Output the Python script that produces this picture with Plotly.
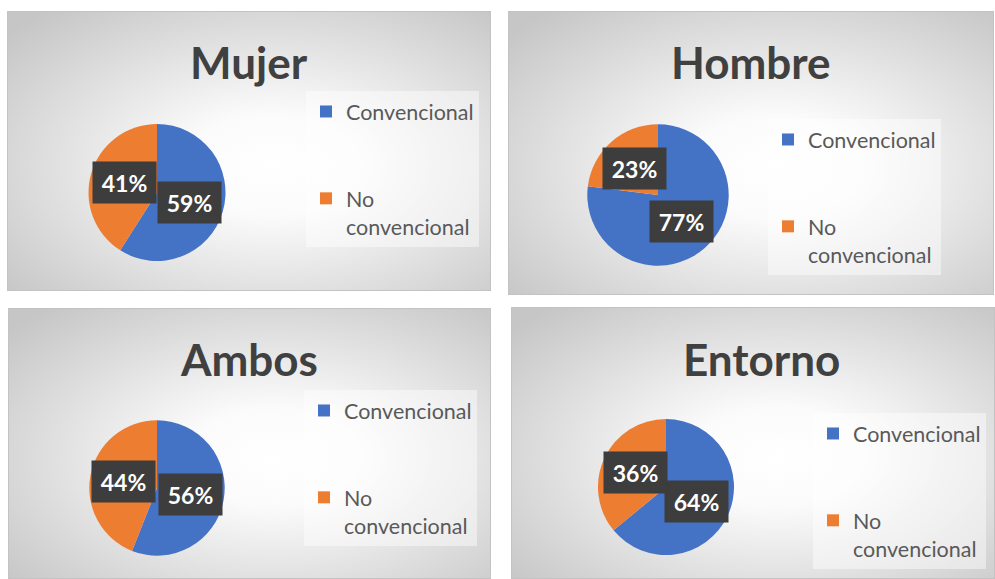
import base64
import math
import plotly.graph_objects as go

W, H = 995, 579

# ---- data ----
titles = ["Mujer", "Hombre", "Ambos", "Entorno"]
categories = ["Convencional", "No convencional"]
conv_pct = [59, 77, 56, 64]
noconv_pct = [41, 23, 44, 36]
colors = ["#4472C4", "#ED7D31"]

# legend text (same categories, with line breaks for Excel-like spacing)
legend_labels = ["Convencional<br> <br> ", "No<br>convencional"]

# ---- layout geometry (pixels) ----
panel_rects = [(7, 11, 491, 291), (508, 11, 994, 295), (8, 308, 491, 579), (511, 307, 995, 579)]
title_pos = [(249, 62), (751, 62), (249, 359), (761, 359)]
pie_geom = [(157, 192.5, 68.5), (658, 195, 70.7), (157, 488, 67.7), (666, 487, 68)]
legend_pos = [(306, 91), (768, 119), (304, 390), (813, 413)]

FONT = "Lato"

svg = (
    "<svg xmlns='http://www.w3.org/2000/svg' width='480' height='280' viewBox='0 0 480 280' preserveAspectRatio='none'>"
    "<defs><radialGradient id='g' cx='0.55' cy='0.55' r='0.72'>"
    "<stop offset='0' stop-color='#ffffff'/>"
    "<stop offset='0.25' stop-color='#fbfbfb'/>"
    "<stop offset='1' stop-color='#c6c6c6'/>"
    "</radialGradient></defs>"
    "<rect x='0' y='0' width='480' height='280' fill='url(#g)' stroke='#c3c3c3' stroke-width='2'/>"
    "</svg>"
)
bg_src = "data:image/svg+xml;base64," + base64.b64encode(svg.encode()).decode()

fig = go.Figure()
annotations = []
images = []
layout_legends = {}

for i, t in enumerate(titles):
    x0, y0, x1, y1 = panel_rects[i]
    images.append(dict(source=bg_src, xref="paper", yref="paper",
                       x=x0 / W, y=1 - y0 / H, sizex=(x1 - x0) / W, sizey=(y1 - y0) / H,
                       xanchor="left", yanchor="top", sizing="stretch", layer="below"))
    cx, cy, r = pie_geom[i]
    vals = [conv_pct[i], noconv_pct[i]]
    lname = "legend" if i == 0 else f"legend{i + 1}"
    fig.add_trace(go.Pie(
        labels=legend_labels, values=vals, sort=False, direction="clockwise", rotation=0,
        marker=dict(colors=colors, line=dict(width=0)),
        textinfo="none", hovertext=categories, hoverinfo="text+percent",
        domain=dict(x=[(cx - r) / W, (cx + r) / W], y=[1 - (cy + r) / H, 1 - (cy - r) / H]),
        legend=lname, legendgroup=f"g{i}", showlegend=True, name=t,
    ))
    # data labels at half radius on slice mid-angle
    total = sum(vals)
    cum = 0
    for v in vals:
        mid = (cum + v / 2) / total * 2 * math.pi
        cum += v
        px = cx + 0.5 * r * math.sin(mid)
        py = cy - 0.5 * r * math.cos(mid)
        annotations.append(dict(
            x=px / W, y=1 - py / H, xref="paper", yref="paper", showarrow=False,
            text=f"<b>{round(v / total * 100)}%</b>", xanchor="center", yanchor="middle",
            font=dict(family=FONT, size=23, color="white"),
            bgcolor="#3d3d3d", width=63, height=41, borderpad=0,
        ))
    tx, ty = title_pos[i]
    annotations.append(dict(
        x=tx / W, y=1 - ty / H, xref="paper", yref="paper", showarrow=False,
        text=f"<b>{t}</b>", xanchor="center", yanchor="middle",
        font=dict(family=FONT, size=44, color="#404040"),
    ))
    lx, ly = legend_pos[i]
    layout_legends[lname] = dict(
        x=lx / W, y=1 - ly / H, xanchor="left", yanchor="top", xref="paper", yref="paper",
        bgcolor="rgba(255,255,255,0.45)", borderwidth=0, valign="top",
        font=dict(family=FONT, size=21.5, color="#595959"), traceorder="normal",
    )

fig.update_layout(
    width=W, height=H, margin=dict(l=0, r=0, t=0, b=0),
    paper_bgcolor="white", plot_bgcolor="white",
    annotations=annotations, images=images, **layout_legends,
)

fig.write_html("out.html", config={"displayModeBar": False},
               post_script="document.body.style.margin='0';document.body.style.padding='0';")
